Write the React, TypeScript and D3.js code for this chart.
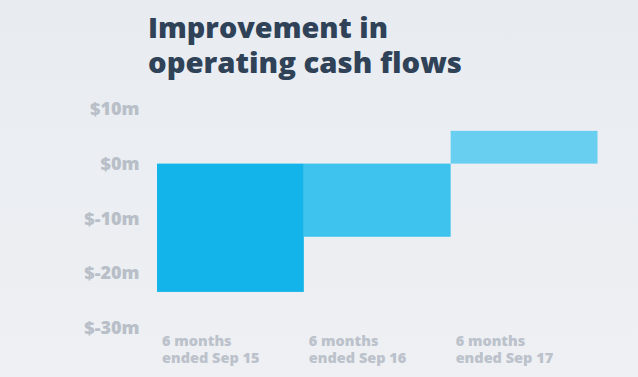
import React from "react";
import * as d3 from "d3";

const categories = ["6 months|ended Sep 15", "6 months|ended Sep 16", "6 months|ended Sep 17"];
const values = [-23.5, -13.4, 6.0];
const barColors = ["#13b4e9", "#3ec3ee", "#68cff1"];
const yTicks = [10, 0, -10, -20, -30];
const titleLines = ["Improvement in", "operating cash flows"];
const titleWidths = [240, 314];

export default function App() {
  const W = 638, H = 377;
  const x = d3.scaleBand<string>().domain(categories).range([157, 597.5]).padding(0);
  const y = d3.scaleLinear().domain([10, -30]).range([109, 327.4]);
  const font = "'Open Sans', sans-serif";
  return (
    <svg width={W} height={H} style={{ position: "absolute", left: 0, top: 0 }}>
      <defs>
        <linearGradient id="bg" x1="0" y1="0" x2="0" y2="1">
          <stop offset="0" stopColor="#e8ecf1" />
          <stop offset="1" stopColor="#eef0f3" />
        </linearGradient>
      </defs>
      <rect width={W} height={H} fill="url(#bg)" />
      {titleLines.map((t, i) => (
        <text key={i} x={148} y={38 + i * 35} fontFamily={font} fontWeight={800} fontSize={29}
          fill="#2f4257" textLength={titleWidths[i]} lengthAdjust="spacingAndGlyphs">
          {t}
        </text>
      ))}
      {yTicks.map((t) => (
        <text key={t} x={139.5} y={y(t)} dy="0.36em" textAnchor="end" fontFamily={font} fontWeight={800} fontSize={18} fill="#b9bfc8">
          {`$${t}m`}
        </text>
      ))}
      {categories.map((c, i) => {
        const v = values[i];
        return (
          <rect key={c} x={x(c)} width={x.bandwidth()} y={y(Math.max(0, v))} height={Math.abs(y(v) - y(0))} fill={barColors[i]} />
        );
      })}
      {categories.map((c) =>
        c.split("|").map((l, j) => (
          <text key={c + j} x={(x(c) as number) + 5} y={346 + j * 16.7} fontFamily={font} fontWeight={800} fontSize={14.5} fill="#bcc2cb">
            {l}
          </text>
        ))
      )}
    </svg>
  );
}
